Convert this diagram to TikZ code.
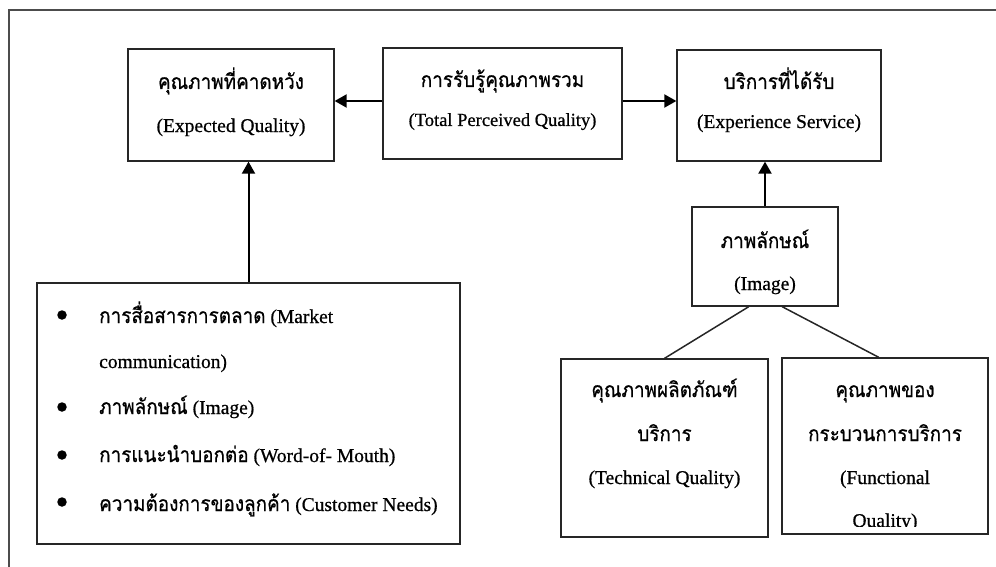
\documentclass[tikz,border=0pt]{standalone}
\usepackage{fontspec}
\setmainfont{Liberation Serif}
\newfontfamily\serfont[FakeBold=0.7]{Liberation Serif}
\newfontfamily\thaifont[Script=Thai,FakeStretch=0.9,FakeBold=0.7]{Loma}
\usetikzlibrary{arrows.meta,calc}

\newcommand{\thaibig}[1]{{\thaifont\fontsize{21}{24}\selectfont #1}}
\newcommand{\latbig}[1]{{\serfont\fontsize{19.5}{22}\selectfont #1}}
\newcommand{\latmid}[1]{{\serfont\fontsize{18.5}{22}\selectfont #1}}

\begin{document}
\begin{tikzpicture}[x=1pt,y=-1pt,
  box/.style={draw=black!85, line width=1.3pt, inner sep=0pt},
  arr/.style={draw=black, line width=2pt, -{Triangle[length=12pt,width=13pt]}},
  link/.style={draw=black!85, line width=1.5pt},
  txt/.style={inner sep=0pt, anchor=base},
  ltxt/.style={inner sep=0pt, anchor=base west},
  dot/.style={circle, fill=black, inner sep=0pt, minimum size=9.5pt}]

\useasboundingbox (0,0) rectangle (996,567);

% outer frame (only its top and left sides lie on the page)
\draw[draw=black!70, line width=2pt] (996,10) -- (9,10) -- (9,567);

% boxes
\node[box, minimum width=206pt, minimum height=112pt] (exp)  at (231,105)   {};
\node[box, minimum width=239pt, minimum height=111pt] (tot)  at (502.5,103.5) {};
\node[box, minimum width=204pt, minimum height=111pt] (svc)  at (779,105.5) {};
\node[box, minimum width=423pt, minimum height=261pt] (fac)  at (248.5,413.5) {};
\node[box, minimum width=146pt, minimum height=99pt]  (img)  at (765,256.5) {};
\node[box, minimum width=207pt, minimum height=178pt] (tech) at (664.5,448) {};
\node[box, minimum width=206pt, minimum height=176pt] (func) at (885,446)   {};

% texts of the top row
\node[txt] (expth) at (231,89)  {\thaibig{คุณภาพที่คาดหวัง}};
\node[txt] (expen) at (231,132) {\latbig{(Expected Quality)}};
\node[txt] (totth) at (502.5,87)  {\thaibig{การรับรู้คุณภาพรวม}};
\node[txt] (toten) at (502.5,126) {\latmid{(Total Perceived Quality)}};
\node[txt] (svcth) at (779,89)  {\thaibig{บริการที่ได้รับ}};
\node[txt] (svcen) at (779,128) {\latbig{(Experience Service)}};

% factor list
\node[dot] (b1) at (62,315) {};
\node[dot] (b2) at (62,407) {};
\node[dot] (b3) at (62,455) {};
\node[dot] (b4) at (62,502) {};
\node[ltxt] (f1a) at (99,323) {\thaibig{การสื่อสารการตลาด}\latbig{ (Market}};
\node[ltxt] (f1b) at (99,368) {\latbig{communication)}};
\node[ltxt] (f2)  at (99,414) {\thaibig{ภาพลักษณ์}\latbig{ (Image)}};
\node[ltxt] (f3)  at (99,462) {\thaibig{การแนะนำบอกต่อ}\latbig{ (Word-of- Mouth)}};
\node[ltxt] (f4)  at (99,511) {\thaibig{ความต้องการของลูกค้า}\latbig{ (Customer Needs)}};

% image box
\node[txt] (imgth) at (765,248) {\thaibig{ภาพลักษณ์}};
\node[txt] (imgen) at (765,290) {\latbig{(Image)}};

% technical quality box
\node[txt] (tech1) at (664.5,397) {\thaibig{คุณภาพผลิตภัณฑ์}};
\node[txt] (tech2) at (664.5,441) {\thaibig{บริการ}};
\node[txt] (tech3) at (664.5,484) {\latbig{(Technical Quality)}};

% functional quality box
\node[txt] (func1) at (885,397) {\thaibig{คุณภาพของ}};
\node[txt] (func2) at (885,441) {\thaibig{กระบวนการบริการ}};
\node[txt] (func3) at (885,484) {\latbig{(Functional}};
\begin{scope}
  \clip (783,500) rectangle (987,526);
  \node[txt] (func4) at (885,527) {\latbig{Quality)}};
\end{scope}

% connectors
\coordinate (ya) at (0,101);
\draw[arr] (tot.west |- ya) -- (exp.east |- ya);
\draw[arr] (tot.east |- ya) -- (svc.west |- ya);
\draw[arr] (fac.north) -- (exp.south -| fac.north);
\draw[arr] (img.north) -- (svc.south -| img.north);
\draw[link] ($(img.south west)!0.39!(img.south east)$) -- (tech.north);
\draw[link] ($(img.south west)!0.616!(img.south east)$) -- ($(func.north west)!0.47!(func.north east)$);

\end{tikzpicture}
\end{document}
